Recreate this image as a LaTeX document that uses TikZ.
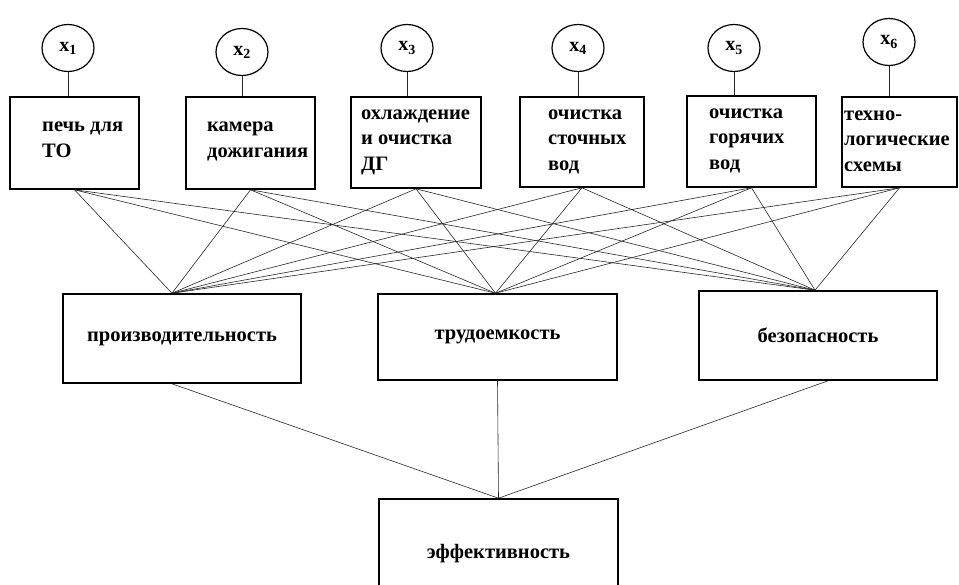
\documentclass[tikz,border=0pt]{standalone}
\usepackage{fontspec}
\setmainfont{Liberation Serif}
\usetikzlibrary{shapes.geometric}
\begin{document}
\begin{tikzpicture}[x=1pt, y=-1pt,
		box/.style={draw, line width=1.6pt, rectangle, inner sep=0pt, font=\fontsize{20.5}{25}\selectfont\bfseries},
		fact/.style={draw, line width=1.2pt, ellipse, minimum width=52pt, minimum height=47pt, inner sep=0pt, font=\fontsize{20}{22}\selectfont\bfseries},
		lbl/.style={anchor=base west, align=left, inner sep=0pt, font=\fontsize{20.5}{25.5}\selectfont\bfseries},
		link/.style={line width=0.6pt, color=black!85}]
		\useasboundingbox (0,0) rectangle (959,584);
		\clip (0,0) rectangle (959,584);
		
		% fattori e blocchi in alto
		\foreach \i/\cx/\cy/\bx/\by/\bw/\bh in {1/68/48/74.5/143/129/92, 2/242/52/250.5/143/129/92, 3/407/48/416/142.5/130/91, 4/578/48/582/142/124/90, 5/734/48/751.5/141.5/129/91, 6/889/42/899.5/142/115/90}
		{
			\node[fact] (c\i) at (\cx,\cy) {x\textsubscript{\i}};
			\node[box, minimum width=\bw pt, minimum height=\bh pt] (b\i) at (\bx,\by) {};
			\draw[link] (c\i.south) -- (c\i.south |- b\i.north);
		}
		
		\node[lbl] (t1) at (42,157) {печь для\\ТО};
		\node[lbl] (t2) at (207,157) {камера\\дожигания};
		\node[lbl] (t3) at (361,170) {охлаждение\\и очистка\\ДГ};
		\node[lbl] (t4) at (548,170) {очистка\\сточных\\вод};
		\node[lbl] (t5) at (709,169) {очистка\\горячих\\вод};
		\node[lbl] (t6) at (844,171) {техно-\\логические\\схемы};
		
		% criteri
		\node[box, minimum width=238pt, minimum height=89pt] (prod) at (182,338.5) {производительность};
		\node[box, minimum width=239pt, minimum height=86pt] (trud) at (497.5,337) {трудоемкость};
		\node[box, minimum width=238pt, minimum height=89pt] (bez) at (818,335.5) {безопасность};
		
		\node[box, minimum width=239pt, minimum height=110pt] (eff) at (498.5,554) {эффективность};
		
		% collegamenti
		\foreach \t in {b1,b2,b3,b4,b5,b6}
			\foreach \m/\dx in {prod/-10,trud/-2,bez/-3}
				\draw[link] (\t.south) -- ([xshift=\dx pt]\m.north);
		
		\draw[link] ([xshift=-10pt]prod.south) -- (eff.north);
		\draw[link] (trud.south) -- (eff.north);
		\draw[link] ([xshift=10pt]bez.south) -- (eff.north);
\end{tikzpicture}
\end{document}
